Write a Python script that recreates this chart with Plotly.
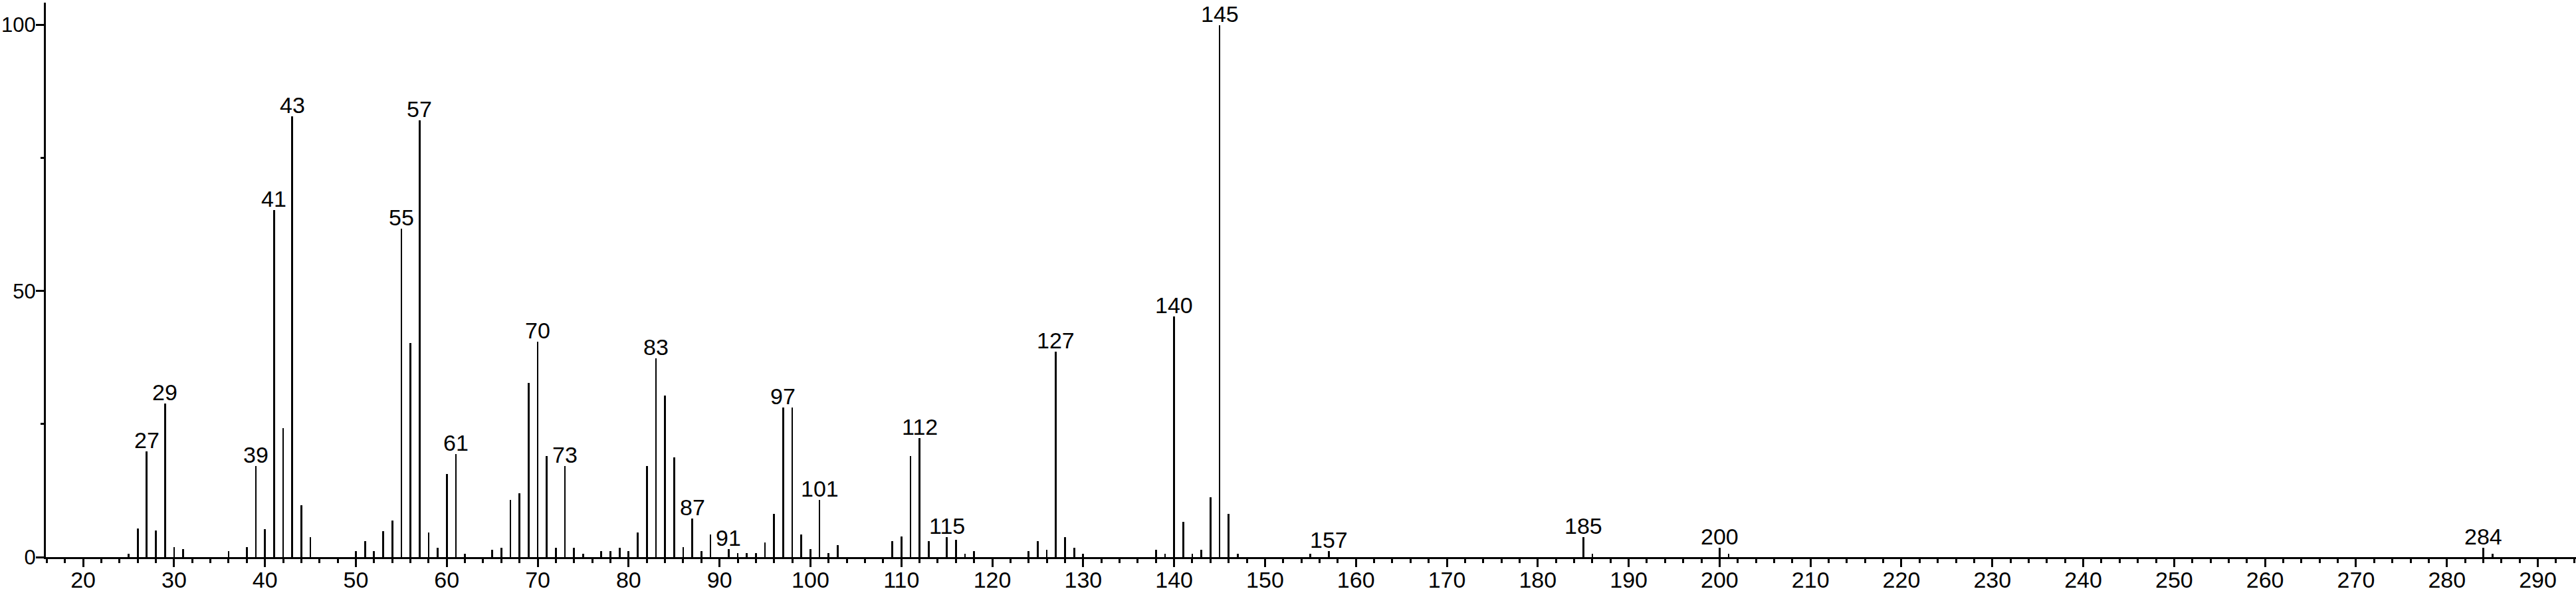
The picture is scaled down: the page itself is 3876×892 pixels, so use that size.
import plotly.graph_objects as go

# m/z values and relative intensities (%)
mz = [25, 26, 27, 28, 29, 30, 31, 36, 38, 39, 40, 41, 42, 43, 44, 45,
      50, 51, 52, 53, 54, 55, 56, 57, 58, 59, 60, 61, 62, 65, 66, 67, 68,
      69, 70, 71, 72, 73, 74, 75, 77, 78, 79, 80, 81, 82, 83, 84, 85, 86,
      87, 88, 89, 91, 92, 93, 94, 95, 96, 97, 98, 99, 100, 101, 102, 103,
      109, 110, 111, 112, 113, 115, 116, 117, 118, 124, 125, 126, 127, 128,
      129, 130, 138, 139, 140, 141, 142, 143, 144, 145, 146, 147, 155, 157,
      185, 186, 200, 201, 284, 285]
intensity = [0.6, 5.4, 19.9, 5.0, 28.8, 1.9, 1.5, 1.1, 1.9, 17.1, 5.3, 65.2, 24.2, 82.8, 9.8, 3.8,
             1.1, 3.0, 1.1, 4.9, 6.9, 61.7, 40.2, 82.1, 4.6, 1.8, 15.6, 19.4, 0.6, 1.4, 1.8, 10.8, 12.0,
             32.7, 40.5, 19.0, 1.8, 17.1, 1.8, 0.6, 1.1, 1.1, 1.8, 1.1, 4.6, 17.1, 37.4, 30.4, 18.7, 1.9,
             7.3, 1.1, 4.2, 1.5, 0.75, 0.75, 0.75, 2.7, 8.1, 28.1, 28.1, 4.2, 1.5, 10.8, 0.75, 2.3,
             3.0, 3.9, 19.0, 22.4, 3.0, 3.7, 3.3, 0.6, 1.1, 1.1, 3.0, 1.4, 38.6, 3.8,
             1.8, 0.6, 1.4, 0.6, 45.2, 6.6, 0.6, 1.4, 11.2, 100.0, 8.1, 0.6, 0.6, 1.1,
             3.8, 0.6, 1.8, 0.6, 1.8, 0.6]

# peaks carrying an m/z label
labelled_mz = [27, 29, 39, 41, 43, 55, 57, 61, 70, 73, 83, 87, 91, 97, 101,
               112, 115, 127, 140, 145, 157, 185, 200, 284]

x_ticks = list(range(20, 300, 10))
y_ticks = [0, 50, 100]

FONT = "Liberation Sans, Arial, sans-serif"

fig = go.Figure()
fig.add_trace(go.Bar(x=mz, y=intensity, width=0.2,
                     marker=dict(color="black", line=dict(width=0)),
                     showlegend=False, hoverinfo="x+y"))

lookup = dict(zip(mz, intensity))
for m in labelled_mz:
    fig.add_annotation(x=m, y=lookup[m], text=str(m), showarrow=False,
                       xanchor="center", yanchor="bottom", yshift=-4,
                       font=dict(family=FONT, size=34, color="black"))

fig.update_layout(
    width=3876, height=892,
    margin=dict(l=69, r=0, t=4, b=54, pad=0),
    paper_bgcolor="white", plot_bgcolor="white",
    bargap=0,
    font=dict(family=FONT, size=34, color="black"),
)
fig.update_xaxes(range=[15.9, 294.2], tickmode="array", tickvals=x_ticks,
                 ticktext=[str(v) for v in x_ticks],
                 showline=True, linecolor="black", linewidth=3,
                 ticks="outside", ticklen=12, tickwidth=2.5, tickcolor="black",
                 ticklabelstandoff=-10,
                 minor=dict(dtick=2, tick0=0, ticks="outside", ticklen=6,
                            tickwidth=2.5, tickcolor="black"),
                 showgrid=False, zeroline=False, automargin=False,
                 tickfont=dict(family=FONT, size=34, color="black"))
fig.update_yaxes(range=[0, 104.2], tickmode="array", tickvals=y_ticks,
                 ticktext=[str(v) for v in y_ticks],
                 showline=True, linecolor="black", linewidth=3,
                 ticks="outside", ticklen=12, tickwidth=2.5, tickcolor="black",
                 ticklabelstandoff=-6,
                 minor=dict(dtick=25, tick0=0, ticks="outside", ticklen=5,
                            tickwidth=2.5, tickcolor="black"),
                 showgrid=False, zeroline=False, automargin=False,
                 tickfont=dict(family=FONT, size=31, color="black"))

fig.write_html("out.html", config={"displayModeBar": False},
               post_script="document.body.style.margin='0';")
